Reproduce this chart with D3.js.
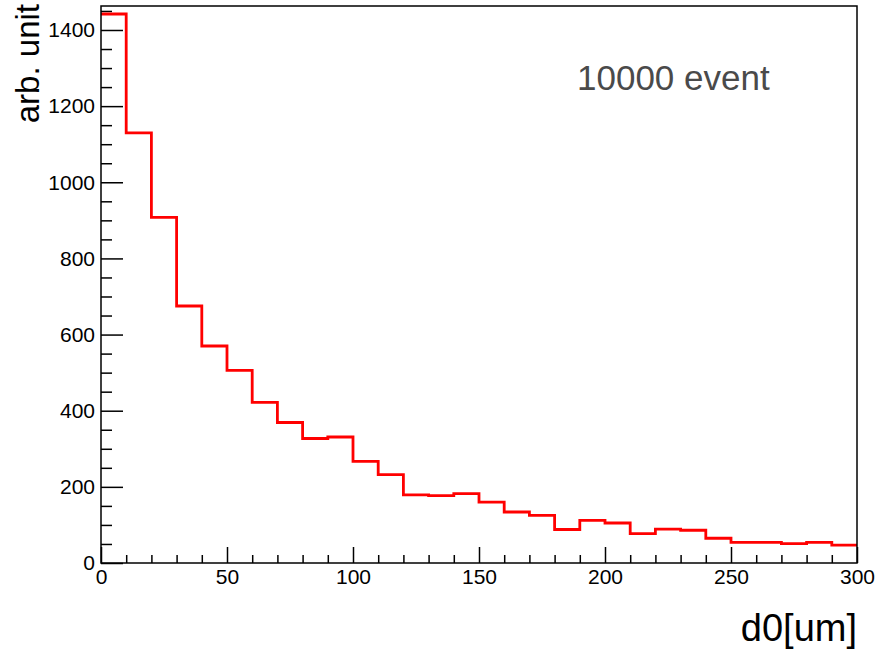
<!DOCTYPE html>
<html>
<head>
<meta charset="utf-8">
<script src="https://cdn.jsdelivr.net/npm/d3@7"></script>
<style>
  body { margin: 0; background: #fff; }
  svg { display: block; font-family: "Liberation Sans", Arial, sans-serif; }
  .axis path { display: none; }
  .axis line { stroke: #000; stroke-width: 1.5; }
  .axis text { fill: #000; font-size: 21px; }
</style>
</head>
<body>
<div id="chart"></div>
<script>
// bin lower edges (um) and counts per bin
const binEdges = [0, 10, 20, 30, 40, 50, 60, 70, 80, 90, 100, 110, 120, 130, 140,
  150, 160, 170, 180, 190, 200, 210, 220, 230, 240, 250, 260, 270, 280, 290];
const binWidth = 10;
const counts = [1442, 1130, 908, 675, 570, 506, 422, 369, 327, 331, 267, 232, 179, 177, 182,
  160, 134, 125, 88, 112, 105, 77, 89, 86, 65, 54, 54, 51, 54, 47];

const xMajor = [0, 50, 100, 150, 200, 250, 300];
const yMajor = [0, 200, 400, 600, 800, 1000, 1200, 1400];
const xDomain = [0, 300];
const yDomain = [0, 1463];

const xTitle = 'd0[um]';
const yTitle = 'arb. unit';
const note = '10000 event';

const W = 879, H = 651;
const frame = {left: 101, right: 857, top: 6, bottom: 563};

const svg = d3.select('#chart').append('svg')
  .attr('width', W).attr('height', H);

const x = d3.scaleLinear().domain(xDomain).range([frame.left, frame.right]);
const y = d3.scaleLinear().domain(yDomain).range([frame.bottom, frame.top]);

// minor ticks
const xMinor = d3.range(xDomain[0], xDomain[1] + 1, 10).filter(v => !xMajor.includes(v));
const yMinor = d3.range(0, yDomain[1], 50).filter(v => !yMajor.includes(v));

svg.append('g').attr('class', 'axis')
  .attr('transform', `translate(0,${frame.bottom})`)
  .call(d3.axisBottom(x).tickValues(xMinor).tickSize(-8).tickFormat(''));
svg.append('g').attr('class', 'axis')
  .attr('transform', `translate(0,${frame.bottom})`)
  .call(d3.axisBottom(x).tickValues(xMajor).tickSize(-16).tickPadding(6).tickFormat(d3.format('d')));

svg.append('g').attr('class', 'axis')
  .attr('transform', `translate(${frame.left},0)`)
  .call(d3.axisLeft(y).tickValues(yMinor).tickSize(-11).tickFormat(''));
svg.append('g').attr('class', 'axis')
  .attr('transform', `translate(${frame.left},0)`)
  .call(d3.axisLeft(y).tickValues(yMajor).tickSize(-22).tickPadding(6).tickFormat(d3.format('d')));

// histogram outline
const pts = binEdges.map((e, i) => [e, counts[i]]);
pts.push([binEdges[binEdges.length - 1] + binWidth, counts[counts.length - 1]]);
const line = d3.line()
  .x(d => x(d[0]))
  .y(d => y(d[1]))
  .curve(d3.curveStepAfter);
svg.append('path')
  .datum(pts)
  .attr('fill', 'none')
  .attr('stroke', '#ff0000')
  .attr('stroke-width', 2.8)
  .attr('d', line);

// frame
svg.append('rect')
  .attr('x', frame.left).attr('y', frame.top)
  .attr('width', frame.right - frame.left)
  .attr('height', frame.bottom - frame.top)
  .attr('fill', 'none')
  .attr('stroke', '#000')
  .attr('stroke-width', 1.5);

// titles
svg.append('text')
  .attr('x', frame.right).attr('y', 641)
  .attr('text-anchor', 'end')
  .attr('font-size', 38)
  .text(xTitle);

svg.append('text')
  .attr('transform', 'translate(39,4) rotate(-90)')
  .attr('text-anchor', 'end')
  .attr('font-size', 33)
  .text(yTitle);

svg.append('text')
  .attr('x', 577).attr('y', 90)
  .attr('font-size', 35)
  .attr('fill', '#4a4a4a')
  .text(note);
</script>
</body>
</html>
